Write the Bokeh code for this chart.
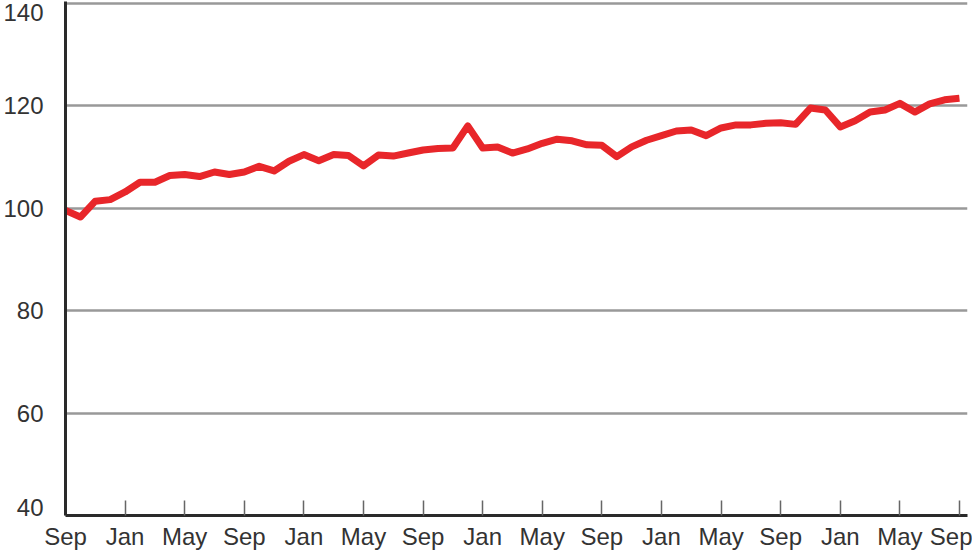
from bokeh.plotting import figure
from bokeh.models import Range1d, FixedTicker
from bokeh.embed import file_html
from bokeh.resources import INLINE

# Monthly index values (Sep .. Sep, 61 months)
values = [
    99.6, 98.3, 101.4, 101.7, 103.2, 105.1, 105.1, 106.4, 106.6, 106.2,
    107.1, 106.6, 107.1, 108.2, 107.3, 109.2, 110.5, 109.3, 110.5, 110.3,
    108.3, 110.4, 110.2, 110.8, 111.4, 111.7, 111.8, 116.1, 111.8, 112.0,
    110.8, 111.6, 112.7, 113.5, 113.2, 112.4, 112.3, 110.1, 112.0, 113.3,
    114.2, 115.1, 115.3, 114.2, 115.7, 116.3, 116.3, 116.6, 116.7, 116.4,
    119.6, 119.2, 115.9, 117.1, 118.8, 119.2, 120.5, 118.8, 120.4, 121.2,
    121.5,
]
tick_labels = ["Sep", "Jan", "May", "Sep", "Jan", "May", "Sep", "Jan",
               "May", "Sep", "Jan", "May", "Sep", "Jan", "May", "Sep"]
y_ticks = [40, 60, 80, 100, 120, 140]
y_labels = ["40", "60", "80", "100", "120", "140"]

months = list(range(len(values)))
tick_pos = [i * 4 for i in range(len(tick_labels))]

# the edge labels sit slightly inside the plot, as in the reference
label_pos = [41.5, 60, 80, 100, 120, 138.25]

FONT = "Liberation Sans"
TXT = "#333333"

p = figure(width=972, height=552, output_backend="svg", toolbar_location=None,
           x_range=Range1d(0, 60.54), y_range=Range1d(40, 140.4),
           min_border_left=65, min_border_right=5, min_border_top=1,
           min_border_bottom=36)
p.outline_line_color = None
p.background_fill_color = "white"

# x axis
p.xaxis.ticker = FixedTicker(ticks=tick_pos)
p.xaxis.major_label_overrides = {tp: lab for tp, lab in zip(tick_pos, tick_labels)}
p.xaxis.major_tick_in = 15
p.xaxis.major_tick_out = 0
p.xaxis.minor_tick_line_color = None
p.xaxis.major_tick_line_color = "#666666"
p.xaxis.major_tick_line_width = 1.5
p.xaxis.axis_line_color = "#2a2a2a"
p.xaxis.axis_line_width = 3
p.xaxis.major_label_text_font = FONT
p.xaxis.major_label_text_font_size = "24px"
p.xaxis.major_label_text_color = TXT
p.xaxis.major_label_standoff = 7

# y axis
p.yaxis.ticker = FixedTicker(ticks=label_pos)
p.yaxis.major_label_overrides = {lp: lab for lp, lab in zip(label_pos, y_labels)}
p.yaxis.major_tick_in = 0
p.yaxis.major_tick_out = 0
p.yaxis.minor_tick_line_color = None
p.yaxis.axis_line_color = "#2a2a2a"
p.yaxis.axis_line_width = 3
p.yaxis.major_label_text_font = FONT
p.yaxis.major_label_text_font_size = "24px"
p.yaxis.major_label_text_color = TXT
p.yaxis.major_label_standoff = 22

p.xgrid.grid_line_color = None
p.ygrid.ticker = FixedTicker(ticks=y_ticks[1:])
p.ygrid.grid_line_color = "#999999"
p.ygrid.grid_line_width = 2.5

p.line(months, values, line_color="#e8262a", line_width=7, line_join="round")

open("out.html", "w").write(file_html(p, INLINE))
